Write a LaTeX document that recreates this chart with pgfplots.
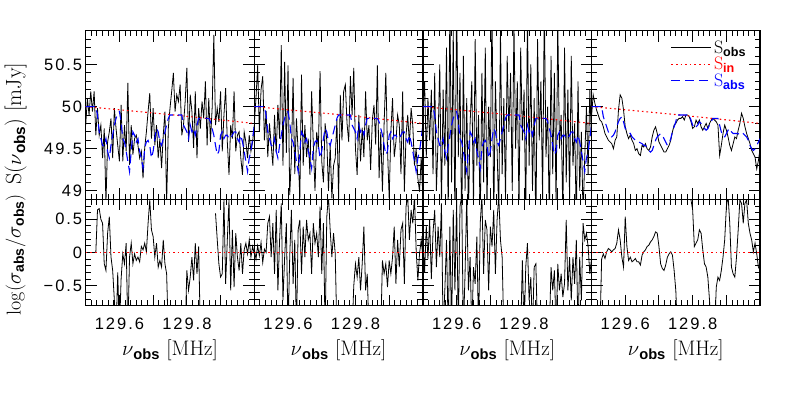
\documentclass[border=0pt]{standalone}
\usepackage{fontspec}
\usepackage{pgfplots}
\pgfplotsset{compat=1.18}
\usepackage{pgfplotstable}
\setsansfont{Liberation Sans}
\newfontfamily\tickf[LetterSpace=12]{Liberation Sans}
\newcommand{\sub}[1]{\textsubscript{\sffamily\bfseries #1}}

\pgfplotstableread{
x ba bb s1 s2 s3 s4 r1 r2 r3 r4
129.500 50.00 50.00 49.78 49.80 49.90 49.88 nan 0.05 0.20 nan
129.505 50.00 50.00 50.10 50.10 50.30 50.14 nan -0.10 -0.30 nan
129.510 50.00 50.00 49.90 50.49 49.40 50.04 nan 0.10 0.40 nan
129.515 50.00 50.00 50.18 49.70 50.10 49.96 nan -0.05 -0.10 nan
129.520 50.00 50.00 49.94 50.20 49.60 49.90 nan 0.15 0.50 nan
129.525 50.00 50.00 50.18 50.36 50.20 49.84 nan -0.15 -0.40 -1.2
129.530 50.00 50.00 49.66 49.60 49.20 49.82 0.00 0.05 0.30 -0.10
129.535 49.90 49.88 49.98 49.95 50.40 49.76 0.64 0.00 0.64 -0.02
129.540 49.70 49.82 49.66 49.40 49.00 49.68 0.66 0.44 -0.22 -0.09
129.545 49.62 49.76 49.78 49.80 49.60 49.64 0.50 0.54 0.39 0.01
129.550 49.54 49.70 49.39 49.55 50.50 49.60 0.44 -0.07 -0.07 0.06
129.555 49.53 49.66 49.74 49.30 48.80 49.58 -0.17 0.44 0.74 0.04
129.560 49.62 49.64 48.85 49.90 50.20 49.56 -0.27 -0.32 -1.2 0.01
129.565 49.47 49.66 49.58 49.45 49.30 49.50 0.29 0.64 -0.57 0.04
129.570 49.39 49.70 49.70 50.02 50.70 49.60 0.54 -0.57 0.19 0.06
129.575 49.54 49.76 49.86 49.62 48.70 49.64 -0.07 0.19 -1.2 0.14
129.580 49.66 49.82 49.39 50.73 51.20 49.96 -0.27 0.74 0.39 0.34
129.585 49.78 49.86 49.98 49.30 49.10 50.14 -0.72 -0.72 -1.2 0.19
129.590 49.86 49.88 49.74 50.53 50.90 50.10 -1.2 -0.07 0.64 -0.07
129.595 49.92 49.82 49.54 49.45 48.60 49.96 -0.30 0.44 -0.57 -0.22
129.600 49.94 49.74 49.35 50.49 51.30 49.76 -1.2 -1.2 0.79 0.54
129.605 49.82 49.72 50.02 48.95 49.40 49.68 -0.40 -0.07 -1.2 0.09
129.610 49.62 49.70 49.35 49.39 50.40 49.62 -0.02 0.64 0.69 -0.12
129.615 49.58 49.68 49.78 50.34 48.50 49.66 -0.17 -0.47 0.85 -0.07
129.620 49.47 49.64 49.47 49.20 50.60 49.60 0.14 0.19 -1.2 -0.14
129.625 49.35 49.62 50.28 49.86 49.00 49.56 -1.2 -1.2 -0.32 -0.12
129.630 49.23 49.60 49.31 49.47 50.10 49.48 -0.07 0.34 0.85 -0.09
129.635 49.47 49.60 49.78 48.90 48.70 49.50 0.14 0.49 -0.57 -0.14
129.640 49.70 49.58 49.43 50.38 49.80 49.44 -0.17 -0.32 -0.07 -0.14
129.645 49.66 49.57 49.62 49.30 50.30 49.42 -0.02 0.39 -1.2 -0.19
129.650 49.58 49.56 49.66 49.78 48.80 49.54 -0.12 -0.07 -0.22 -0.04
129.655 49.62 49.54 49.54 49.40 50.80 49.52 -0.07 0.49 -0.47 0.01
129.660 49.47 49.54 49.39 49.62 49.30 49.56 -0.14 0.19 0.24 0.04
129.665 49.39 49.50 49.47 49.19 49.90 49.50 0.09 0.29 -1.2 0.09
129.670 49.27 49.48 49.15 50.18 48.60 49.48 0.04 -0.32 0.44 0.11
129.675 49.51 49.46 49.51 49.55 50.40 49.52 0.14 0.44 0.85 0.16
129.680 49.58 49.48 49.70 49.00 49.10 49.64 0.01 0.14 -0.32 0.19
129.685 49.60 49.54 49.94 49.70 50.70 49.72 0.44 0.29 0.49 0.24
129.690 49.54 49.60 50.16 49.50 48.80 49.76 0.79 -0.07 0.34 0.31
129.695 49.39 49.64 49.62 50.42 50.00 49.68 0.34 0.69 -0.57 0.29
129.700 49.47 49.66 49.98 49.35 49.40 49.58 0.24 -0.32 0.39 0.09
129.705 49.62 49.68 49.54 49.10 51.20 49.54 -0.07 0.44 0.09 -0.17
129.710 49.74 49.66 49.78 49.80 48.60 49.50 0.14 -1.2 0.64 -0.24
129.715 49.70 49.62 49.39 49.60 50.30 49.46 -0.22 0.54 -0.32 -0.27
129.720 49.58 49.58 49.62 49.00 49.50 49.46 -0.12 0.85 0.49 -0.19
129.725 49.54 49.54 49.27 49.55 48.70 49.50 -0.22 0.34 0.85 -0.07
129.730 49.62 49.56 49.66 48.91 50.90 49.54 0.19 -0.07 0.19 -0.02
129.735 49.70 49.62 49.94 49.30 49.20 49.60 -0.17 0.29 -0.07 0.01
129.740 49.78 49.70 48.85 49.39 50.10 49.70 -0.32 -0.02 -1.2 -0.04
129.745 49.86 49.76 49.74 49.85 48.90 49.78 -1.2 -1.2 nan -0.27
129.750 49.90 49.82 49.98 48.91 50.60 49.80 nan nan nan -0.57
129.755 49.90 49.90 50.18 50.14 49.70 49.84 nan nan nan -1.2
129.760 49.90 49.90 50.40 49.60 50.40 49.86 nan nan nan nan
129.765 49.90 49.90 49.94 50.18 49.00 49.86 nan nan nan nan
129.770 49.90 49.90 50.14 50.26 51.00 49.88 nan nan nan nan
129.775 49.90 49.90 50.06 49.80 49.50 49.84 nan nan nan nan
129.780 49.90 49.90 50.26 49.58 50.30 49.90 nan nan nan nan
129.785 49.90 49.90 49.66 50.36 48.80 49.90 nan nan nan 1.2
129.790 49.78 49.90 49.78 49.90 50.70 49.88 nan -1.2 -1.2 0.85
129.795 49.74 49.84 50.06 50.46 49.60 49.82 -1.2 -0.50 -0.12 0.79
129.800 49.70 49.78 50.46 49.50 50.20 49.74 -0.27 -0.17 -1.2 0.64
129.805 49.62 49.74 49.58 49.19 48.70 49.76 -0.57 -0.37 -0.22 0.09
129.810 49.78 49.76 50.14 49.90 51.10 49.84 -0.37 -0.07 0.14 0.14
129.815 49.70 49.78 49.94 49.35 49.30 49.80 -0.07 -0.57 -0.72 0.19
129.820 49.74 49.82 49.51 49.75 50.50 49.84 -0.42 -0.17 -0.37 0.34
129.825 49.66 49.80 50.18 49.40 49.00 49.76 0.14 0.39 -1.2 0.29
129.830 49.78 49.76 49.39 50.18 50.10 49.72 -0.32 -0.57 -0.22 0.04
129.835 49.86 49.74 49.98 49.60 48.50 49.76 0.09 -0.32 -0.17 -0.17
129.840 49.86 49.72 49.74 49.78 50.80 49.80 -1.2 -1.2 -1.2 -0.22
129.845 49.86 49.74 50.06 49.25 49.60 49.74 nan nan nan -0.37
129.850 49.86 49.78 49.86 49.84 50.30 49.80 nan nan nan -0.72
129.855 49.86 49.82 50.30 50.02 48.90 49.84 nan nan nan -1.2
129.860 49.86 49.86 49.54 49.55 51.20 49.86 nan nan nan -1.2
129.865 49.86 49.86 50.10 50.49 49.40 49.84 nan nan nan -1.2
129.870 49.82 49.86 49.58 49.15 50.00 49.82 nan nan nan -0.52
129.875 49.74 49.86 49.98 49.70 48.60 49.78 nan -1.2 -1.2 -0.37
129.880 49.66 49.78 50.85 48.99 50.60 49.42 nan -0.12 -0.22 -0.42
129.885 49.54 49.70 49.78 49.80 49.20 49.54 0.59 -0.32 -0.57 -0.27
129.890 49.43 49.64 49.98 50.40 50.40 49.68 0.20 -0.17 -0.27 -0.07
129.895 49.47 49.64 49.82 49.50 48.80 49.78 -0.17 -0.52 -1.2 0.19
129.900 49.66 49.68 50.18 48.91 51.00 49.72 -0.37 -0.12 -0.17 0.69
129.905 49.70 49.72 49.47 49.70 49.50 49.64 -0.32 -0.32 -0.57 0.85
129.910 49.62 49.74 49.90 50.10 49.90 49.54 0.79 -0.07 -0.32 0.44
129.915 49.66 49.70 50.22 49.40 48.70 49.48 -0.47 0.39 -0.67 -0.22
129.920 49.66 49.68 49.58 49.58 50.70 49.56 0.19 -0.47 -0.47 -0.32
129.925 49.62 49.68 49.19 49.90 49.10 49.64 0.79 0.19 0.49 -0.37
129.930 49.62 49.68 49.78 49.78 50.20 49.62 -0.57 -0.22 -0.57 -0.07
129.935 49.66 49.68 49.62 49.20 48.90 49.72 0.34 0.34 -0.07 0.34
129.940 49.70 49.66 50.18 50.18 50.60 49.80 -0.52 0.44 -0.72 0.79
129.945 49.70 49.66 49.47 48.99 49.30 49.92 0.29 -0.47 -0.07 0.74
129.950 49.62 49.68 49.66 49.66 49.80 49.86 -0.07 0.69 -0.47 0.44
129.955 49.58 49.66 49.70 49.90 48.60 49.76 -0.27 0.85 0.19 0.74
129.960 49.66 49.64 49.39 49.55 50.30 49.68 0.14 0.19 -1.2 0.79
129.965 49.58 49.60 49.19 49.98 49.00 49.62 -0.32 0.64 -0.07 0.44
129.970 49.47 49.54 49.70 49.78 49.70 49.56 0.04 0.44 -0.72 0.29
129.975 49.35 49.50 49.58 49.30 48.70 49.48 0.14 0.85 0.44 0.19
129.980 49.23 49.48 49.39 49.50 49.40 49.44 -0.02 0.04 0.19 0.01
129.985 49.39 49.50 49.66 49.15 50.00 49.40 0.19 -0.42 0.29 0.14
129.990 49.47 49.54 49.47 48.99 49.20 49.26 -0.07 -0.02 0.09 -0.02
129.995 49.62 49.58 49.58 49.40 50.20 49.36 0.09 0.19 -0.32 -0.22
130.000 49.78 49.62 49.78 48.91 49.60 49.50 -0.02 -0.07 -0.10 -0.27
}\data

\pgfplotsset{
  panel/.style={
    scale only axis, width=168.6pt, anchor=south west,
    xmin=129.5, xmax=130.0,
    xtick={129.5,129.6,129.7,129.8,129.9,130.0},
    xticklabels={}, minor x tick num=5,
    tick align=inside, xtick pos=both, ytick pos=both,
    major tick length=11pt, minor tick length=5.5pt,
    tick style={black, line width=0.9pt},
    axis line style={line width=1.3pt},
    tick label style={font=\fontsize{16.5}{16.5}\tickf},
    /pgf/number format/assume math mode=true,
    unbounded coords=jump,
    every axis x label/.style={at={(axis description cs:0.5,0)}, anchor=base, yshift=-50pt, font=\fontsize{21}{21}\selectfont},
    every x tick label/.append style={anchor=base, yshift=-23.5pt},
  },
  toppanel/.style={panel, height=168.6pt, ymin=48.9, ymax=50.9,
    ytick={49,49.5,50,50.5}, minor ytick={48.9,49.0,...,50.9}, yticklabels={},
    every axis y label/.style={at={(axis description cs:-0.415,0.45)}, rotate=90, anchor=center, font=\fontsize{22}{22}\selectfont}},
  botpanel/.style={panel, height=106.4pt, ymin=-0.8, ymax=0.8,
    ytick={-0.5,0,0.5}, minor ytick={-0.8,-0.7,...,0.8}, yticklabels={},
    xticklabels={,129.6,,129.8,,}, xlabel={$\nu$\sub{obs} [MHz]},
    every axis y label/.style={at={(axis description cs:-0.415,0.48)}, rotate=90, anchor=center, font=\fontsize{20}{20}\selectfont}},
  sobs/.style={black, line width=0.8pt},
  sin/.style={red, line width=1.1pt, dash pattern=on 1.6pt off 3pt},
  sabs/.style={blue, line width=1.1pt, dash pattern=on 9pt off 5pt},
  longleg/.style={legend image code/.code={\draw[##1] (0pt,0pt) -- (40pt,0pt);}},
}

\begin{document}
\begin{tikzpicture}
\useasboundingbox (0,0) rectangle (789pt,410pt);

% ---------- top row ----------
\begin{axis}[toppanel, at={(85.7pt,210.7pt)}, yticklabels={49,49.5,50,50.5},
  ylabel={S($\nu$\sub{obs}) [mJy]}]
\addplot[sobs] table[x=x,y=s1]{\data};
\addplot[sin] coordinates {(129.5,50.0) (129.75,49.905) (130.0,49.8)};
\addplot[sabs] table[x=x,y=ba]{\data};
\end{axis}

\begin{axis}[toppanel, at={(254.3pt,210.7pt)}]
\addplot[sobs] table[x=x,y=s2]{\data};
\addplot[sin] coordinates {(129.5,50.0) (129.75,49.905) (130.0,49.8)};
\addplot[sabs] table[x=x,y=ba]{\data};
\end{axis}

\begin{axis}[toppanel, at={(422.9pt,210.7pt)}]
\addplot[sobs] table[x=x,y=s3]{\data};
\addplot[sin] coordinates {(129.5,50.0) (129.75,49.905) (130.0,49.8)};
\addplot[sabs] table[x=x,y=ba]{\data};
\end{axis}

\begin{axis}[toppanel, at={(591.5pt,210.7pt)},
  legend style={draw=none, fill=none, at={(rel axis cs:0.93,0.955)}, anchor=north east,
    font=\fontsize{18}{18}\selectfont, row sep=-1.5pt, inner sep=0pt},
  legend cell align=left]
\addplot[sobs, longleg, legend image post style={black}] table[x=x,y=s4]{\data};
\addlegendentry{S\sub{obs}}
\addplot[sin, longleg, legend image post style={red}] coordinates {(129.5,50.0) (129.75,49.905) (130.0,49.8)};
\addlegendentry{\textcolor{red}{S\sub{in}}}
\addplot[sabs, longleg, legend image post style={blue}] table[x=x,y=bb]{\data};
\addlegendentry{\textcolor{blue}{S\sub{abs}}}
\end{axis}

% ---------- bottom row ----------
\begin{axis}[botpanel, at={(85.7pt,104.3pt)}, yticklabels={−0.5,0,0.5},
  ylabel={log($\sigma$\sub{abs}/$\sigma$\sub{obs})}]
\addplot[sobs] table[x=x,y=r1]{\data};
\addplot[sin] coordinates {(129.5,0) (130.0,0)};
\end{axis}

\begin{axis}[botpanel, at={(254.3pt,104.3pt)}]
\addplot[sobs] table[x=x,y=r2]{\data};
\addplot[sin] coordinates {(129.5,0) (130.0,0)};
\end{axis}

\begin{axis}[botpanel, at={(422.9pt,104.3pt)}]
\addplot[sobs] table[x=x,y=r3]{\data};
\addplot[sin] coordinates {(129.5,0) (130.0,0)};
\end{axis}

\begin{axis}[botpanel, at={(591.5pt,104.3pt)}]
\addplot[sobs] table[x=x,y=r4]{\data};
\addplot[sin] coordinates {(129.5,0) (130.0,0)};
\end{axis}
\end{tikzpicture}
\end{document}
